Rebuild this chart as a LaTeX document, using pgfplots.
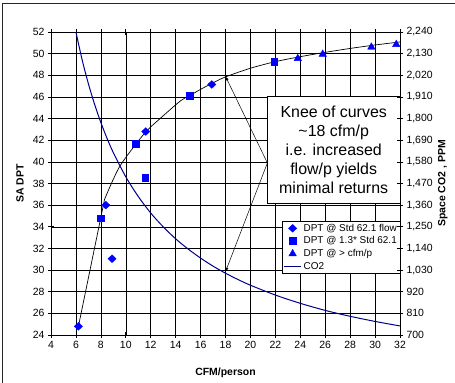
\documentclass[border=0pt]{standalone}
\usepackage{pgfplots}
\pgfplotsset{compat=1.18}
\usepackage{fontspec}
\setmainfont{Liberation Sans}
\usetikzlibrary{arrows.meta}
\definecolor{mblue}{RGB}{0,0,255}
\definecolor{navy}{RGB}{0,0,140}
\begin{document}
\begin{tikzpicture}
\clip (-51bp,-48bp) rectangle (404bp,335bp);
\draw[line width=1bp, black!85] (-48bp,-60bp) -- (-48bp,331bp) -- (420bp,331bp);
\begin{axis}[
 at={(0,0)}, anchor=south west, scale only axis, width=349bp, height=303bp,
 xmin=4, xmax=32, ymin=24, ymax=52,
 xtick={4,6,...,32}, ytick={24,26,...,52},
 grid=major, major grid style={black, line width=0.5bp},
 axis line style={black, line width=0.8bp},
 tick align=center, major tick length=6bp, tick style={black, line width=0.6bp},
 ticklabel style={font=\fontsize{10.5}{12}\selectfont},
 /pgf/number format/assume math mode=true,
 xlabel={CFM/person}, ylabel={SA DPT},
 label style={font=\bfseries\fontsize{10.5}{12}\selectfont},
 xlabel style={at={(axis description cs:0.5,-0.1254)}, anchor=center},
 ylabel style={at={(axis description cs:-0.0888,0.5)}, anchor=center},
 legend style={at={(rel axis cs:1,0.377)}, anchor=north east, draw=black, fill=white,
   font=\fontsize{10}{12}\selectfont, inner sep=1bp},
 legend cell align=left,
]
\addplot[black, line width=0.7bp, forget plot] coordinates {(6.2,24.8) (8.3,36.55)};
\addplot[black, line width=0.7bp, smooth, forget plot] coordinates {
(8.3,36.55) (9.45,39.45) (10.85,41.7) (11.75,42.95) (12.75,44.0) (14.35,45.6) (15.1,46.1)
(16,46.7) (17,47.3) (18,47.85) (20,48.65) (22,49.26) (24,49.72) (26,50.12) (28,50.48) (30,50.8) (32,51.08)};
\addplot[only marks, mark=diamond*, mark size=3.9bp, mark options={xscale=1.4, fill=mblue, draw=mblue}] coordinates {
(6.2,24.8) (8.4,36.0) (8.9,31.05) (11.6,42.8) (16.9,47.15)};
\addlegendentry{DPT @ Std 62.1 flow}
\addplot[only marks, mark=square*, mark size=3.4bp, mark options={fill=mblue, draw=mblue}] coordinates {
(8.0,34.8) (10.8,41.65) (11.55,38.55) (15.1,46.1) (21.9,49.25)};
\addlegendentry{DPT @ 1.3* Std 62.1}
\addplot[only marks, mark=triangle*, mark size=4.3bp, mark options={fill=mblue, draw=mblue}] coordinates {
(23.8,49.55) (25.8,49.95) (29.7,50.6) (31.7,50.85)};
\addlegendentry{DPT @ > cfm/p}
\addlegendimage{navy, line width=1bp}
\addlegendentry{CO2}
\draw[black, line width=0.5bp, -{Latex[length=4bp,width=3bp]}] (axis cs:21.36,39.9) -- (axis cs:18,47.9);
\draw[black, line width=0.5bp, -{Latex[length=4bp,width=3bp]}] (axis cs:21.36,39.9) -- (axis cs:18,29.85);
\draw[black, line width=0.8bp, fill=white] (axis cs:21.36,36.17) rectangle (axis cs:32,46.02);
\node[align=center, font=\fontsize{16}{19}\selectfont] at (axis cs:26.68,41.1)
 {Knee of curves\\ \textasciitilde 18 cfm/p\\ i.e. increased\\ flow/p yields\\ minimal returns};
\end{axis}
\begin{axis}[
 at={(0,0)}, anchor=south west, scale only axis, width=349bp, height=303bp,
 xmin=4, xmax=32, ymin=700, ymax=2240,
 axis y line*=right, axis x line=none,
 ytick={700,810,920,1030,1140,1250,1360,1470,1580,1690,1800,1910,2020,2130,2240},
 axis line style={black, line width=0.8bp},
 tick align=center, major tick length=6bp, tick style={black, line width=0.6bp},
 yticklabel style={font=\fontsize{10.5}{12}\selectfont, /pgf/number format/1000 sep={,}},
 /pgf/number format/assume math mode=true,
 ylabel={Space CO2 , PPM},
 ylabel style={font=\bfseries\fontsize{10.5}{12}\selectfont, at={(axis description cs:1.123,0.5)}, anchor=center},
]
\addplot[navy, line width=1bp, smooth] coordinates {
(6,2240) (6.5,2098) (7,1977) (7.5,1872) (8,1780) (8.5,1699) (9,1627) (10,1504) (11,1404)
(12,1320) (13,1250) (14,1189) (15,1137) (16,1091) (17,1050) (18,1014) (19,982) (20,953)
(22,903) (24,861) (26,825) (28,795) (30,769) (32,746)};
\end{axis}
\end{tikzpicture}
\end{document}
